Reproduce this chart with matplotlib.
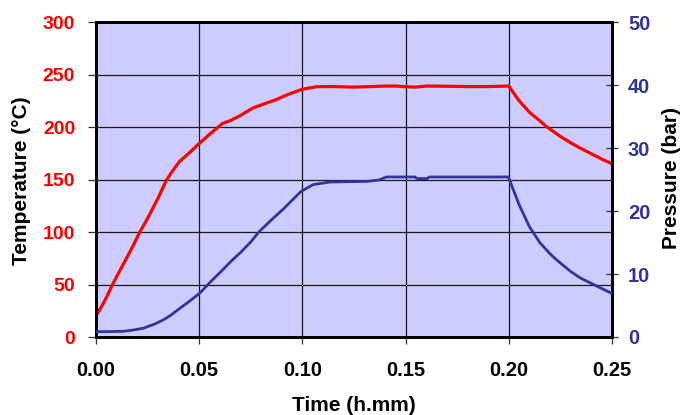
import matplotlib
matplotlib.use("Agg")
import matplotlib.pyplot as plt

plt.rcParams['font.family'] = ['Liberation Sans', 'DejaVu Sans']
plt.rcParams['font.weight'] = 'bold'

# Temperature series (time in h.mm, temperature in °C)
temp_time = [0.000, 0.003, 0.005, 0.008, 0.010, 0.0145, 0.018, 0.021, 0.025, 0.030,
             0.034, 0.037, 0.0404, 0.045, 0.0493, 0.055, 0.0614, 0.065, 0.070, 0.0759,
             0.080, 0.0872, 0.093, 0.100, 0.107, 0.115, 0.125, 0.135, 0.140, 0.145,
             0.150, 0.155, 0.160, 0.170, 0.180, 0.190, 0.200, 0.205, 0.210, 0.215,
             0.2185, 0.225, 0.230, 0.2345, 0.240, 0.245, 0.250]
temp_vals = [20, 30, 37.5, 50, 57.5, 74, 87, 99, 113, 132,
             149, 158, 167, 175, 183, 193, 203.5, 206, 211, 218,
             221, 226, 231, 236, 238.4, 238.5, 238, 238.6, 239, 239,
             238.3, 238, 239, 238.8, 238.5, 238.5, 239, 225, 214, 206,
             200, 191, 185, 180, 174.5, 169.5, 165]

# Pressure series (time in h.mm, pressure in bar)
pres_time = [0.000, 0.005, 0.013, 0.018, 0.023, 0.028, 0.0325, 0.036, 0.040, 0.045,
             0.0504, 0.055, 0.060, 0.066, 0.070, 0.075, 0.079, 0.085, 0.0904, 0.0993,
             0.1053, 0.1134, 0.1312, 0.1368, 0.1408, 0.1545, 0.1555, 0.1605, 0.1615, 0.1998,
             0.205, 0.210, 0.215, 0.220, 0.2233, 0.230, 0.2345, 0.240, 0.245, 0.250]
pres_vals = [0.85, 0.85, 0.9, 1.1, 1.4, 2.0, 2.7, 3.4, 4.4, 5.6,
             7.0, 8.6, 10.2, 12.2, 13.4, 15.1, 16.7, 18.6, 20.2, 23.1,
             24.2, 24.6, 24.7, 24.9, 25.4, 25.4, 25.15, 25.15, 25.4, 25.4,
             21.0, 17.5, 15.0, 13.2, 12.2, 10.4, 9.4, 8.5, 7.7, 6.9]

x_ticks = [0.00, 0.05, 0.10, 0.15, 0.20, 0.25]
x_tick_labels = ['0.00', '0.05', '0.10', '0.15', '0.20', '0.25']
temp_ticks = [0, 50, 100, 150, 200, 250, 300]
pres_ticks = [0, 10, 20, 30, 40, 50]

RED = '#FF0000'
BLUE = '#333399'

fig = plt.figure(figsize=(6.85, 4.15), dpi=100)
ax = fig.add_axes([96/685, 1 - 337/415, 516/685, 315/415])
ax.set_facecolor('#CCCCFF')
ax2 = ax.twinx()

ax.set_xlim(0, 0.25)
ax.set_ylim(0, 300)
ax2.set_ylim(0, 50)

ax.set_xticks(x_ticks)
ax.set_xticklabels(x_tick_labels)
ax.set_yticks(temp_ticks)
ax2.set_yticks(pres_ticks)

ax.grid(True, color='#1a1a1a', linewidth=0.9)
ax.set_axisbelow(True)

ax.plot(temp_time, temp_vals, color=RED, linewidth=2.3, solid_capstyle='butt', zorder=3)
ax2.plot(pres_time, pres_vals, color=BLUE, linewidth=2.0, solid_capstyle='butt', zorder=3)

for a in (ax, ax2):
    for s in a.spines.values():
        s.set_linewidth(2.0)
        s.set_color('black')

ax.tick_params(axis='y', direction='out', length=6, width=0.9, color='#333333',
               labelcolor=RED, labelsize=14, pad=9)
ax.tick_params(axis='x', direction='out', length=5, width=0.9, color='#333333',
               labelcolor='black', labelsize=14.5, pad=12)
ax2.tick_params(axis='y', direction='inout', length=9, width=0.9, color='#333333',
                labelcolor=BLUE, labelsize=14.5, pad=7)

for lab in ax.get_xticklabels() + ax.get_yticklabels() + ax2.get_yticklabels():
    lab.set_fontweight('bold')

fig.text(22/685, 1 - 181/415, 'Temperature (°C)', rotation=90, ha='center', va='center',
         fontsize=15, fontweight='bold', color='black')
fig.text(671.5/685, 1 - 177.5/415, 'Pressure (bar)', rotation=90, ha='center', va='center',
         fontsize=15, fontweight='bold', color='black')
fig.text(354/685, 1 - 405/415, 'Time (h.mm)', ha='center', va='center',
         fontsize=15, fontweight='bold', color='black')

fig.savefig('out.png', dpi=100)
